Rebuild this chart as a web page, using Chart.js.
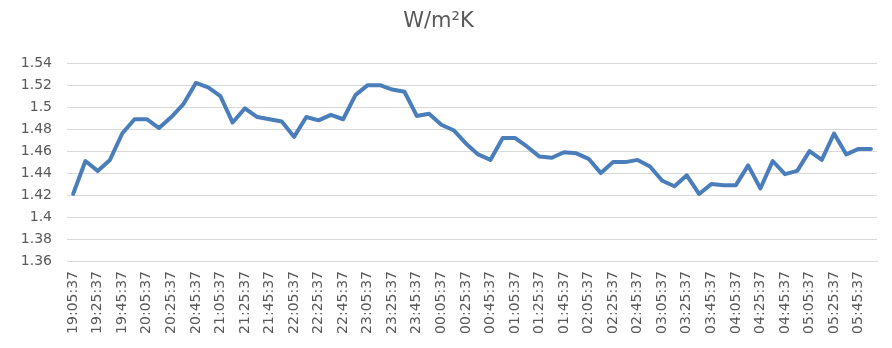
<!DOCTYPE html>
<html>
<head>
<meta charset="utf-8">
<script src="https://cdn.jsdelivr.net/npm/chart.js@4"></script>
<style>
  html, body { margin: 0; padding: 0; background: #fff; }
  #wrap { width: 892px; height: 348px; }
</style>
</head>
<body>
<div id="wrap"><canvas id="chart" width="892" height="348"></canvas></div>
<script>
// readings every 10 minutes, 19:05:37 to 05:55:37
const times = [
  "19:05:37","19:15:37","19:25:37","19:35:37","19:45:37","19:55:37",
  "20:05:37","20:15:37","20:25:37","20:35:37","20:45:37","20:55:37",
  "21:05:37","21:15:37","21:25:37","21:35:37","21:45:37","21:55:37",
  "22:05:37","22:15:37","22:25:37","22:35:37","22:45:37","22:55:37",
  "23:05:37","23:15:37","23:25:37","23:35:37","23:45:37","23:55:37",
  "00:05:37","00:15:37","00:25:37","00:35:37","00:45:37","00:55:37",
  "01:05:37","01:15:37","01:25:37","01:35:37","01:45:37","01:55:37",
  "02:05:37","02:15:37","02:25:37","02:35:37","02:45:37","02:55:37",
  "03:05:37","03:15:37","03:25:37","03:35:37","03:45:37","03:55:37",
  "04:05:37","04:15:37","04:25:37","04:35:37","04:45:37","04:55:37",
  "05:05:37","05:15:37","05:25:37","05:35:37","05:45:37","05:55:37"
];

const uValues = [
  1.421, 1.451, 1.442, 1.452, 1.476, 1.489, 1.489, 1.481, 1.491, 1.503,
  1.522, 1.518, 1.510, 1.486, 1.499, 1.491, 1.489, 1.487, 1.473, 1.491,
  1.488, 1.493, 1.489, 1.511, 1.520, 1.520, 1.516, 1.514, 1.492, 1.494,
  1.484, 1.479, 1.467, 1.457, 1.452, 1.472, 1.472, 1.464, 1.455, 1.454,
  1.459, 1.458, 1.453, 1.440, 1.450, 1.450, 1.452, 1.446, 1.433, 1.428,
  1.438, 1.421, 1.430, 1.429, 1.429, 1.447, 1.426, 1.451, 1.439, 1.442,
  1.460, 1.452, 1.476, 1.457, 1.462, 1.462
];

const yMin = 1.36;
const yMax = 1.54;
const yStep = 0.02;

const textColor = '#595959';
const gridColor = '#d9d9d9';
const fontFamily = '"DejaVu Sans", sans-serif';

const ctx = document.querySelector('#chart').getContext('2d');

new Chart(ctx, {
  type: 'line',
  data: {
    labels: times,
    datasets: [{
      label: 'W/m²K',
      data: uValues,
      borderColor: '#4a7ebb',
      borderWidth: 4,
      borderJoinStyle: 'round',
      borderCapStyle: 'round',
      pointRadius: 0,
      tension: 0,
      fill: false
    }]
  },
  options: {
    responsive: false,
    animation: false,
    layout: { padding: { left: 0, right: 15, top: 0, bottom: 0 } },
    plugins: {
      legend: { display: false },
      tooltip: { enabled: false },
      title: {
        display: true,
        text: 'W/m²K',
        color: textColor,
        font: { family: fontFamily, size: 21, weight: 'normal' },
        padding: { top: 9, bottom: 29 }
      }
    },
    scales: {
      x: {
        offset: true,
        grid: { display: false, drawTicks: false },
        border: { display: true, color: gridColor, width: 1 },
        ticks: {
          autoSkip: false,
          minRotation: 90,
          maxRotation: 90,
          padding: 10,
          color: textColor,
          font: { family: fontFamily, size: 14 },
          // every second time is labelled
          callback: (v, i) => (i % 2 === 0 ? times[i] : '')
        },
        afterFit: (scale) => {
          scale.height = 87;
          // the rotated end labels sit inside the category offset anyway
          scale.paddingLeft = 0;
          scale.paddingRight = 0;
        }
      },
      y: {
        min: yMin,
        max: yMax,
        grid: { color: gridColor, lineWidth: 1, drawTicks: false },
        border: { display: false },
        ticks: {
          stepSize: yStep,
          padding: 15,
          color: textColor,
          font: { family: fontFamily, size: 14 },
          callback: (v) => String(Number(v.toFixed(2)))
        },
        afterFit: (scale) => { scale.width = 67; }
      }
    }
  }
});
</script>
</body>
</html>
